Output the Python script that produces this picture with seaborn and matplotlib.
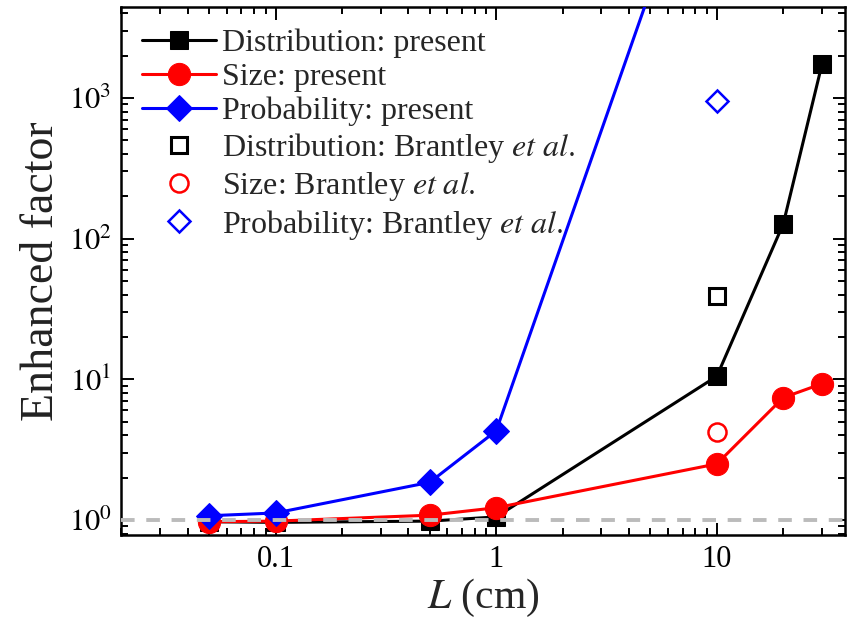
import numpy as np
import pandas as pd
import matplotlib
matplotlib.use("Agg")
import matplotlib.pyplot as plt
import seaborn as sns
from matplotlib.ticker import LogLocator, NullFormatter, FixedLocator, FixedFormatter

# data
L_present = [0.05, 0.1, 0.5, 1, 10, 20, 30]
dist_present = [0.97, 0.96, 0.98, 1.05, 10.5, 127, 1750]
size_present = [0.97, 0.98, 1.08, 1.22, 2.5, 7.4, 9.3]
L_prob = [0.05, 0.1, 0.5, 1, 10]
prob_present = [1.07, 1.12, 1.85, 4.3, 1.3e5]

L_brantley = [10]
dist_brantley = [39]
size_brantley = [4.2]
prob_brantley = [950]

sns.set_theme(style="ticks")
plt.rcParams["font.family"] = ["Liberation Serif", "DejaVu Serif"]
plt.rcParams["mathtext.fontset"] = "stix"
plt.rcParams["xtick.direction"] = "in"
plt.rcParams["ytick.direction"] = "in"

fig, ax = plt.subplots(figsize=(8.55, 6.2), dpi=100)
fig.subplots_adjust(left=0.142, right=0.988, top=0.988, bottom=0.137)

ax.axhline(1, color="#bbbbbb", ls=(0, (3.5, 3)), lw=2.8, zorder=5)

sns.lineplot(x=L_present, y=dist_present, ax=ax, color="black", lw=2.2,
             marker="s", markersize=13, markeredgecolor="black",
             label="Distribution: present", zorder=3)
sns.lineplot(x=L_present, y=size_present, ax=ax, color="red", lw=2.2,
             marker="o", markersize=16, markeredgecolor="red",
             label="Size: present", zorder=4)
sns.lineplot(x=L_prob, y=prob_present, ax=ax, color="blue", lw=2.2,
             marker="D", markersize=13, markeredgecolor="blue",
             label="Probability: present", zorder=4)

ax.plot(L_brantley, dist_brantley, ls="none", marker="s", markersize=11,
        mfc="white", mec="black", mew=2.2, label="Distribution: Brantley $\\it{et\\ al.}$")
ax.plot(L_brantley, size_brantley, ls="none", marker="o", markersize=13,
        mfc="white", mec="red", mew=1.8, label="Size: Brantley $\\it{et\\ al.}$")
ax.plot(L_brantley, prob_brantley, ls="none", marker="D", markersize=11,
        mfc="white", mec="blue", mew=1.8, label="Probability: Brantley $\\it{et\\ al.}$")

ax.set_xscale("log")
ax.set_yscale("log")
ax.set_xlim(0.02, 38)
ax.set_ylim(0.78, 4400)

ax.xaxis.set_major_locator(FixedLocator([0.1, 1, 10]))
ax.xaxis.set_major_formatter(FixedFormatter(["0.1", "1", "10"]))
ax.xaxis.set_minor_locator(LogLocator(base=10, subs=np.arange(2, 10), numticks=20))
ax.xaxis.set_minor_formatter(NullFormatter())
ax.yaxis.set_major_locator(FixedLocator([1, 10, 100, 1000]))
ax.yaxis.set_major_formatter(FixedFormatter(["$10^0$", "$10^1$", "$10^2$", "$10^3$"]))
ax.yaxis.set_minor_locator(LogLocator(base=10, subs=np.arange(2, 10), numticks=20))
ax.yaxis.set_minor_formatter(NullFormatter())

ax.tick_params(which="both", top=True, right=True, width=1.4, colors="black",
               labelsize=22, pad=7)
ax.tick_params(which="major", length=9)
ax.tick_params(which="minor", length=5)
for s in ax.spines.values():
    s.set_linewidth(1.8)
    s.set_color("black")

ax.set_xlabel("$\\it{L}$ (cm)", fontsize=30, labelpad=2)
ax.set_ylabel("Enhanced factor", fontsize=33, labelpad=4, color="#222222")

leg = ax.legend(loc="upper left", frameon=False, fontsize=23, handlelength=2.3,
                handletextpad=0.2, labelspacing=0.15, borderaxespad=0.3,
                borderpad=0.35)

fig.savefig("out.png", dpi=100)
